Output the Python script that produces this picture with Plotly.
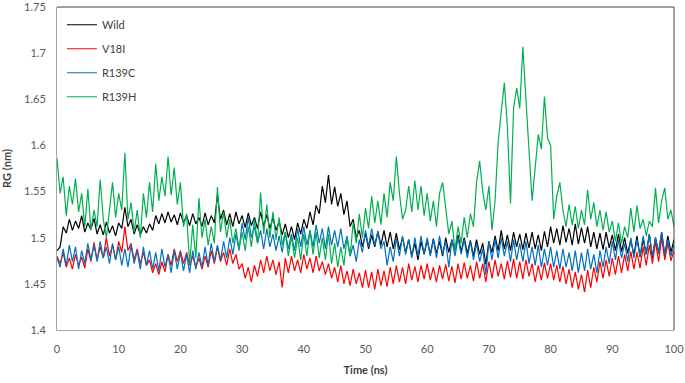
import plotly.graph_objects as go

# Time axis (ns), sampled every 0.5 ns
time_ns = [i * 0.5 for i in range(201)]

series_names = ["Wild", "V18I", "R139C", "R139H"]
series_colors = ["#000000", "#ff0000", "#0070c0", "#00b050"]

rg_wild = [
    1.486, 1.490, 1.512, 1.505, 1.520, 1.508, 1.518, 1.510, 1.524, 1.506,
    1.516, 1.509, 1.521, 1.504, 1.514, 1.503, 1.517, 1.505, 1.513, 1.502,
    1.516, 1.510, 1.533, 1.512, 1.520, 1.504, 1.514, 1.503, 1.512, 1.505,
    1.515, 1.508, 1.524, 1.515, 1.526, 1.516, 1.528, 1.517, 1.525, 1.514,
    1.527, 1.516, 1.524, 1.513, 1.526, 1.515, 1.522, 1.512, 1.527, 1.514,
    1.524, 1.516, 1.546, 1.520, 1.530, 1.514, 1.526, 1.512, 1.528, 1.515,
    1.524, 1.511, 1.527, 1.513, 1.522, 1.510, 1.528, 1.512, 1.525, 1.510,
    1.522, 1.508, 1.518, 1.503, 1.515, 1.500, 1.512, 1.498, 1.516, 1.504,
    1.520, 1.510, 1.528, 1.514, 1.535, 1.526, 1.556, 1.538, 1.568, 1.536,
    1.555, 1.534, 1.548, 1.525, 1.540, 1.512, 1.520, 1.500, 1.508, 1.490,
    1.505, 1.488, 1.503, 1.490, 1.507, 1.492, 1.508, 1.490, 1.506, 1.488,
    1.505, 1.487, 1.500, 1.484, 1.498, 1.480, 1.494, 1.476, 1.496, 1.482,
    1.497, 1.482, 1.499, 1.483, 1.496, 1.480, 1.500, 1.484, 1.498, 1.486,
    1.503, 1.485, 1.500, 1.483, 1.497, 1.480, 1.498, 1.482, 1.494, 1.471,
    1.496, 1.484, 1.502, 1.486, 1.508, 1.488, 1.503, 1.486, 1.506, 1.490,
    1.504, 1.487, 1.505, 1.489, 1.506, 1.488, 1.503, 1.486, 1.507, 1.490,
    1.512, 1.494, 1.510, 1.492, 1.513, 1.495, 1.510, 1.492, 1.515, 1.493,
    1.511, 1.494, 1.512, 1.490, 1.506, 1.488, 1.505, 1.487, 1.506, 1.489,
    1.503, 1.486, 1.504, 1.485, 1.500, 1.483, 1.498, 1.481, 1.502, 1.479,
    1.498, 1.482, 1.504, 1.478, 1.500, 1.483, 1.506, 1.480, 1.502, 1.484,
    1.498,
]

rg_v18i = [
    1.480, 1.472, 1.484, 1.468, 1.478, 1.466, 1.482, 1.470, 1.479, 1.467,
    1.488, 1.474, 1.495, 1.476, 1.490, 1.478, 1.500, 1.480, 1.492, 1.476,
    1.496, 1.484, 1.512, 1.486, 1.494, 1.476, 1.488, 1.472, 1.484, 1.470,
    1.476, 1.462, 1.472, 1.460, 1.474, 1.463, 1.482, 1.470, 1.488, 1.474,
    1.486, 1.472, 1.484, 1.470, 1.480, 1.468, 1.478, 1.466, 1.480, 1.468,
    1.486, 1.472, 1.490, 1.474, 1.484, 1.470, 1.488, 1.472, 1.482, 1.466,
    1.472, 1.456, 1.468, 1.452, 1.470, 1.458, 1.476, 1.462, 1.480, 1.464,
    1.476, 1.460, 1.474, 1.446, 1.478, 1.462, 1.480, 1.464, 1.476, 1.462,
    1.482, 1.466, 1.478, 1.462, 1.480, 1.464, 1.474, 1.460, 1.472, 1.456,
    1.468, 1.452, 1.470, 1.450, 1.464, 1.448, 1.466, 1.450, 1.462, 1.446,
    1.465, 1.446, 1.463, 1.444, 1.466, 1.448, 1.464, 1.447, 1.468, 1.450,
    1.470, 1.452, 1.468, 1.450, 1.472, 1.454, 1.469, 1.452, 1.470, 1.455,
    1.472, 1.454, 1.468, 1.452, 1.470, 1.455, 1.471, 1.453, 1.469, 1.451,
    1.472, 1.455, 1.473, 1.456, 1.470, 1.453, 1.474, 1.456, 1.472, 1.452,
    1.474, 1.456, 1.476, 1.458, 1.472, 1.455, 1.475, 1.457, 1.477, 1.456,
    1.474, 1.455, 1.476, 1.458, 1.472, 1.452, 1.470, 1.454, 1.473, 1.456,
    1.472, 1.454, 1.470, 1.452, 1.469, 1.450, 1.466, 1.446, 1.463, 1.444,
    1.460, 1.441, 1.465, 1.446, 1.468, 1.452, 1.474, 1.456, 1.476, 1.458,
    1.478, 1.460, 1.480, 1.462, 1.482, 1.464, 1.485, 1.466, 1.484, 1.467,
    1.490, 1.470, 1.492, 1.472, 1.496, 1.474, 1.500, 1.476, 1.494, 1.475,
    1.486,
]

rg_r139c = [
    1.478, 1.468, 1.488, 1.470, 1.492, 1.474, 1.490, 1.466, 1.486, 1.472,
    1.494, 1.476, 1.492, 1.474, 1.496, 1.478, 1.490, 1.472, 1.494, 1.476,
    1.490, 1.470, 1.488, 1.468, 1.492, 1.472, 1.486, 1.466, 1.490, 1.470,
    1.486, 1.466, 1.484, 1.464, 1.488, 1.468, 1.482, 1.462, 1.486, 1.466,
    1.484, 1.464, 1.482, 1.462, 1.486, 1.466, 1.484, 1.468, 1.490, 1.470,
    1.494, 1.474, 1.492, 1.476, 1.496, 1.478, 1.500, 1.482, 1.504, 1.486,
    1.516, 1.498, 1.522, 1.500, 1.512, 1.494, 1.508, 1.488, 1.510, 1.490,
    1.504, 1.486, 1.502, 1.484, 1.506, 1.488, 1.504, 1.486, 1.510, 1.490,
    1.512, 1.492, 1.508, 1.490, 1.514, 1.494, 1.510, 1.488, 1.512, 1.492,
    1.508, 1.490, 1.510, 1.488, 1.502, 1.480, 1.492, 1.474, 1.498, 1.484,
    1.508, 1.490, 1.510, 1.492, 1.506, 1.488, 1.496, 1.470, 1.490, 1.474,
    1.500, 1.480, 1.502, 1.482, 1.498, 1.478, 1.500, 1.480, 1.502, 1.482,
    1.500, 1.480, 1.498, 1.478, 1.502, 1.482, 1.496, 1.468, 1.498, 1.480,
    1.500, 1.482, 1.498, 1.478, 1.496, 1.476, 1.494, 1.474, 1.488, 1.460,
    1.496, 1.476, 1.498, 1.478, 1.500, 1.480, 1.496, 1.474, 1.498, 1.476,
    1.494, 1.474, 1.496, 1.472, 1.490, 1.470, 1.492, 1.468, 1.488, 1.470,
    1.490, 1.468, 1.486, 1.466, 1.488, 1.468, 1.484, 1.464, 1.486, 1.462,
    1.484, 1.464, 1.488, 1.466, 1.482, 1.462, 1.486, 1.468, 1.490, 1.472,
    1.496, 1.476, 1.498, 1.478, 1.494, 1.474, 1.500, 1.478, 1.498, 1.480,
    1.502, 1.482, 1.504, 1.480, 1.500, 1.484, 1.506, 1.482, 1.498, 1.480,
    1.492,
]

rg_r139h = [
    1.586, 1.548, 1.566, 1.524, 1.556, 1.536, 1.564, 1.528, 1.548, 1.512,
    1.553, 1.508, 1.530, 1.512, 1.563, 1.520, 1.500, 1.534, 1.560, 1.522,
    1.548, 1.530, 1.592, 1.520, 1.538, 1.506, 1.530, 1.500, 1.548, 1.522,
    1.560, 1.528, 1.580, 1.540, 1.566, 1.545, 1.588, 1.546, 1.576, 1.536,
    1.560, 1.512, 1.526, 1.472, 1.514, 1.478, 1.543, 1.500, 1.520, 1.492,
    1.512, 1.494, 1.555, 1.506, 1.528, 1.500, 1.520, 1.494, 1.510, 1.488,
    1.506, 1.486, 1.512, 1.490, 1.520, 1.494, 1.549, 1.504, 1.536, 1.500,
    1.528, 1.498, 1.522, 1.492, 1.506, 1.480, 1.502, 1.478, 1.500, 1.476,
    1.504, 1.480, 1.508, 1.482, 1.506, 1.478, 1.500, 1.476, 1.504, 1.472,
    1.494, 1.468, 1.490, 1.470, 1.500, 1.480, 1.516, 1.494, 1.526, 1.500,
    1.532, 1.510, 1.545, 1.516, 1.540, 1.514, 1.548, 1.522, 1.560, 1.540,
    1.588, 1.548, 1.520, 1.530, 1.556, 1.528, 1.562, 1.530, 1.556, 1.524,
    1.548, 1.518, 1.540, 1.512, 1.548, 1.560, 1.530, 1.504, 1.518, 1.486,
    1.512, 1.494, 1.522, 1.500, 1.526, 1.512, 1.560, 1.583, 1.550, 1.530,
    1.556, 1.508, 1.540, 1.604, 1.636, 1.668, 1.620, 1.537, 1.640, 1.662,
    1.640, 1.707, 1.650, 1.600, 1.540, 1.576, 1.612, 1.596, 1.653, 1.608,
    1.600, 1.520, 1.545, 1.560, 1.530, 1.512, 1.536, 1.514, 1.534, 1.510,
    1.530, 1.514, 1.552, 1.520, 1.538, 1.512, 1.530, 1.508, 1.528, 1.506,
    1.518, 1.496, 1.516, 1.494, 1.512, 1.500, 1.532, 1.506, 1.535, 1.510,
    1.520, 1.502, 1.518, 1.512, 1.554, 1.516, 1.540, 1.554, 1.520, 1.530,
    1.512,
]

x_ticks = [0, 10, 20, 30, 40, 50, 60, 70, 80, 90, 100]
x_tick_labels = ["0", "10", "20", "30", "40", "50", "60", "70", "80", "90", "100"]
y_ticks = [1.4, 1.45, 1.5, 1.55, 1.6, 1.65, 1.7, 1.75]
y_tick_labels = ["1.4", "1.45", "1.5", "1.55", "1.6", "1.65", "1.7", "1.75"]

all_series = [rg_wild, rg_v18i, rg_r139c, rg_r139h]

fig = go.Figure()
for name, color, values in zip(series_names, series_colors, all_series):
    fig.add_trace(go.Scatter(
        x=time_ns, y=values, mode="lines", name=name,
        legendgroup=name,
        line=dict(color=color, width=1.2),
    ))

font_family = "Lato, 'Liberation Sans', Arial, sans-serif"

fig.update_layout(
    width=685, height=383,
    margin=dict(l=57, r=11, t=7, b=53, autoexpand=False),
    paper_bgcolor="white", plot_bgcolor="white",
    font=dict(family=font_family, size=11, color="#595959"),
    showlegend=True,
    legend=dict(
        x=0.008, y=0.99, xanchor="left", yanchor="top",
        bgcolor="rgba(0,0,0,0)", borderwidth=0,
        font=dict(size=11, color="#404040", family=font_family),
        tracegroupgap=5,
        itemwidth=30,
    ),
    xaxis=dict(
        range=[0, 100], tickvals=x_ticks, ticktext=x_tick_labels,
        showgrid=False, zeroline=False,
        showline=True, linecolor="#a6a6a6", linewidth=1,
        ticks="", ticklabelstandoff=9, ticklabeloverflow="allow",
        title=dict(text="<b>Time (ns)</b>", font=dict(size=11, color="#404040"), standoff=12),
    ),
    yaxis=dict(
        range=[1.4, 1.75], tickvals=y_ticks, ticktext=y_tick_labels,
        showgrid=False, zeroline=False,
        showline=True, linecolor="#a6a6a6", linewidth=1,
        ticks="", ticklabelstandoff=8, ticklabeloverflow="allow",
        title=dict(text="<b>RG (nm)</b>", font=dict(size=11, color="#404040"), standoff=10),
    ),
    shapes=[
        dict(type="line", xref="paper", yref="paper", x0=0, x1=1, y0=1, y1=1,
             line=dict(color="#404040", width=1)),
        dict(type="line", xref="paper", yref="paper", x0=1, x1=1, y0=0, y1=1,
             line=dict(color="#404040", width=1)),
    ],
)

fig.write_html(
    "out.html",
    config={"displayModeBar": False},
    post_script="document.body.style.margin='0';document.body.style.padding='0';",
)
